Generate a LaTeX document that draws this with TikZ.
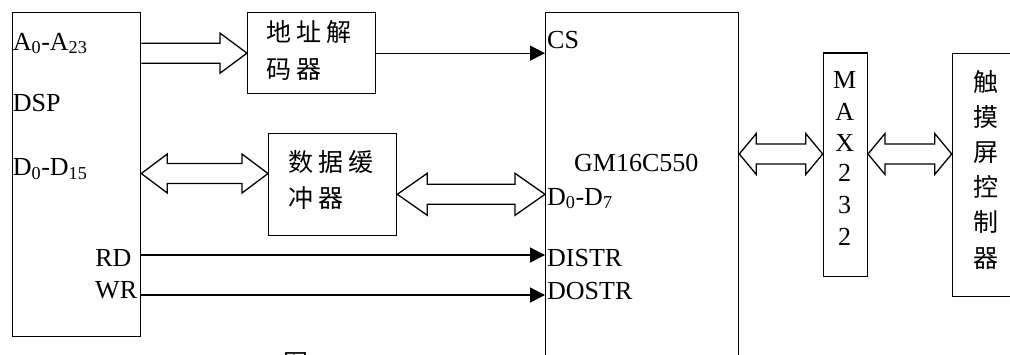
\documentclass[tikz,border=0pt]{standalone}
\usepackage{fontspec}
\setmainfont{Liberation Serif}
\newfontfamily\cjk{Noto Sans CJK SC}
\usetikzlibrary{arrows.meta,calc}
\newcommand\latfont{\fontsize{26}{30}\selectfont}
\newcommand\hanfont{\cjk\fontsize{25}{30}\selectfont}
\newcommand\dblarr[5]{%
  \draw[hollow] (#1) -- ($(#1)+(#3,-#5)$) -- ($(#1)+(#3,-#4)$) -- ($(#2)+(-#3,-#4)$)
    -- ($(#2)+(-#3,-#5)$) -- (#2) -- ($(#2)+(-#3,#5)$) -- ($(#2)+(-#3,#4)$)
    -- ($(#1)+(#3,#4)$) -- ($(#1)+(#3,#5)$) -- cycle;}
\begin{document}
\begin{tikzpicture}[x=1pt,y=-1pt,
  box/.style={draw,line width=1.3pt,inner sep=0pt,anchor=north west},
  hollow/.style={draw,line width=1.3pt,fill=white,line join=miter},
  sig/.style={line width=1.3pt,-{Triangle[length=15pt,width=15pt]}},
  lbl/.style={inner sep=0pt,anchor=base west,font=\latfont},
  lblr/.style={inner sep=0pt,anchor=base east,font=\latfont},
  lblc/.style={inner sep=0pt,anchor=base,font=\latfont},
  han/.style={inner sep=0pt,anchor=base west,font=\hanfont},
  hanc/.style={inner sep=0pt,anchor=base,font=\hanfont}]
\useasboundingbox (0,0) rectangle (1010,354);
\clip (0,0) rectangle (1010,354);

% blocks
\node[box,minimum width=128pt,minimum height=324pt] (dsp) at (12,12) {};
\node[box,minimum width=128pt,minimum height=81pt] (dec) at (247,12) {};
\node[box,minimum width=128pt,minimum height=102pt] (buf) at (268,133) {};
\node[box,minimum width=193pt,minimum height=400pt] (gm) at (545,12) {};
\node[box,minimum width=44pt,minimum height=223.5pt] (max) at (822.7,52.3) {};
\node[box,minimum width=90pt,minimum height=243.5pt] (tc) at (951.7,52.5) {};

% helper levels
\coordinate (y1) at (0,173.5);
\coordinate (y2) at (0,194.3);
\coordinate (y3) at (0,154);
\coordinate (yrd) at (0,255);
\coordinate (ywr) at (0,295);

% address bus (single hollow arrow)
\coordinate (a1) at (dsp.east |- dec.west);
\draw[hollow] ($(a1)+(0,-10)$) -- ($(dec.west)+(-27,-10)$) -- ($(dec.west)+(-27,-20)$)
  -- (dec.west) -- ($(dec.west)+(-27,20)$) -- ($(dec.west)+(-27,10)$) -- ($(a1)+(0,10)$);

% data buses (double hollow arrows)
\coordinate (b1) at (dsp.east |- y1);
\coordinate (b2) at (buf.west |- y1);
\dblarr{b1}{b2}{26}{10}{19.5}
\coordinate (c1) at (buf.east |- y2);
\coordinate (c2) at (gm.west |- y2);
\dblarr{c1}{c2}{30}{10}{21}
\coordinate (d1) at (gm.east |- y3);
\coordinate (d2) at (max.west |- y3);
\dblarr{d1}{d2}{17}{10}{20.5}
\coordinate (e1) at (max.east |- y3);
\coordinate (e2) at (tc.west |- y3);
\dblarr{e1}{e2}{17}{10}{20.5}

% control signals
\draw[sig] (dec.east) -- (gm.west |- dec.east);
\draw[sig] (dsp.east |- yrd) -- (gm.west |- yrd);
\draw[sig] (dsp.east |- ywr) -- (gm.west |- ywr);

% DSP labels
\node[lbl] (la) at (12.7,50) {A\textsubscript{0}-A\textsubscript{23}};
\node[lbl] (ldsp) at (12.7,111.7) {DSP};
\node[lbl] (ld) at (12.7,175.7) {D\textsubscript{0}-D\textsubscript{15}};
\node[lblr] (lrd) at (131.7,266.7) {RD};
\node[lblr] (lwr) at (137.3,298.3) {WR};

% GM16C550 labels
\node[lbl] (lcs) at (547,48.3) {CS};
\node[lbl] (lgm) at (574,171.7) {GM16C550};
\node[lbl] (ld7) at (547,205) {D\textsubscript{0}-D\textsubscript{7}};
\node[lbl] (ldi) at (547,266.7) {DISTR};
\node[lbl] (ldo) at (547,299) {DOSTR};

% decoder / buffer text
\node[han] (dec1) at (266.7,41) {地\hspace{5pt}址\hspace{5pt}解};
\node[han] (dec2) at (266.7,78) {码\hspace{5pt}器};
\node[han] (buf1) at (288.3,171.5) {数\hspace{5pt}据\hspace{5pt}缓};
\node[han] (buf2) at (288.3,207.5) {冲\hspace{5pt}器};

% MAX232 vertical text
\foreach \t/\yy [count=\i] in {M/88,A/120,X/151,2/181.7,3/213.3,2/245}
  \node[lblc] (m\i) at (844.7,\yy) {\t};

% touch screen controller vertical text
\foreach \t/\yy [count=\i] in {触/91,摸/126.2,屏/161.4,控/196.6,制/231.8,器/267}
  \node[hanc] (t\i) at (985.5,\yy) {\t};

% caption (cut off at the bottom)
\node[han] (cap) at (283,372) {图};
\end{tikzpicture}
\end{document}
